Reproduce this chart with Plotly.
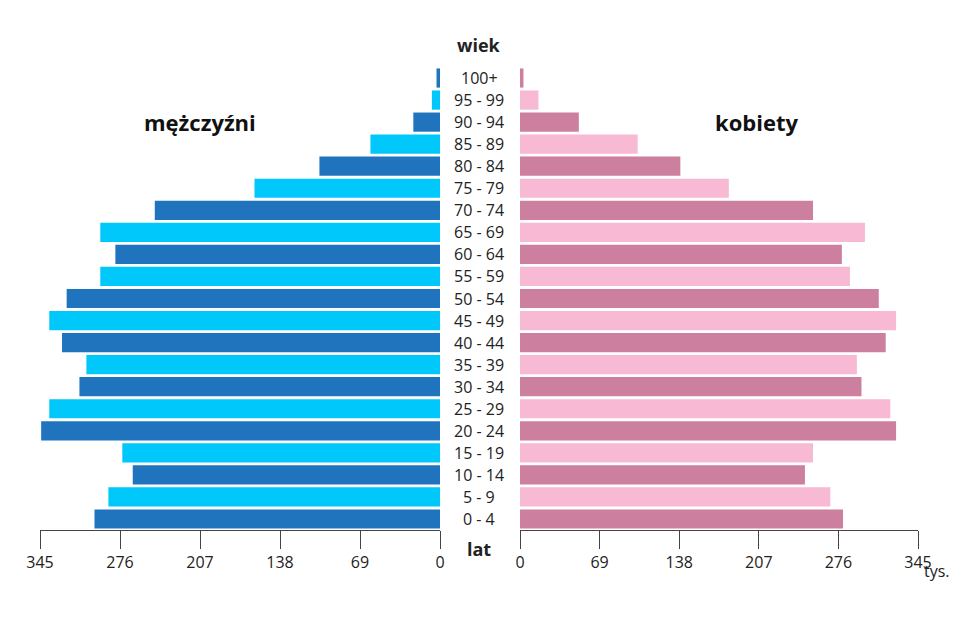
import plotly.graph_objects as go

ages = ["0 - 4","5 - 9","10 - 14","15 - 19","20 - 24","25 - 29","30 - 34","35 - 39","40 - 44","45 - 49",
        "50 - 54","55 - 59","60 - 64","65 - 69","70 - 74","75 - 79","80 - 84","85 - 89","90 - 94","95 - 99","100+"]
men = [298,286,265,274,344,337,311,305,326,337,322,293,280,293,246,160,104,60,23,7,3]
women = [280,269,247,254,326,321,296,292,317,326,311,286,279,299,254,181,139,102,51,16,3]
ticks = [0,69,138,207,276,345]

m_col = ["#1f74bd" if i % 2 == 0 else "#00c8fb" for i in range(len(ages))]
w_col = ["#cc7f9e" if i % 2 == 0 else "#f7b9d3" for i in range(len(ages))]

fig = go.Figure()
fig.add_bar(y=ages, x=men, orientation="h", marker=dict(color=m_col, line_width=0), xaxis="x", yaxis="y", hoverinfo="x+y")
fig.add_bar(y=ages, x=women, orientation="h", marker=dict(color=w_col, line_width=0), xaxis="x2", yaxis="y2", hoverinfo="x+y")

font = dict(family="Open Sans", size=16, color="#222")
ax = dict(tickvals=ticks, ticktext=[str(t) for t in ticks], showgrid=False, zeroline=False,
          showline=True, linecolor="#444", linewidth=1, ticks="outside", ticklen=18, tickcolor="#444",
          tickfont=font, fixedrange=True)
ya = dict(categoryorder="array", categoryarray=ages, range=[-0.5, 20.5], visible=False, fixedrange=True)
fig.update_layout(
    width=960, height=640, margin=dict(l=32, r=50, t=59, b=118),
    paper_bgcolor="white", plot_bgcolor="white", showlegend=False, bargap=0.13,
    xaxis=dict(ax, domain=[0, 400/878], range=[345, 0]),
    xaxis2=dict(ax, domain=[480/878, 1], range=[0, 345]),
    yaxis=dict(ya, anchor="x"),
    yaxis2=dict(ya, anchor="x2"),
    font=font,
)
for a in ages:
    fig.add_annotation(x=0.5, xref="paper", y=a, yref="y", text=a, showarrow=False, font=font)
fig.add_annotation(x=0.5, xref="paper", y=1.0, yref="paper", yanchor="bottom", yshift=8, text="<b>wiek</b>",
                   showarrow=False, font=dict(family="Open Sans", size=18, color="#222"))
fig.add_annotation(x=0.5, xref="paper", y=0, yref="paper", yanchor="middle", yshift=-19, text="<b>lat</b>",
                   showarrow=False, font=dict(family="Open Sans", size=18, color="#222"))
fig.add_annotation(x=1, xref="paper", y=0, yref="paper", xanchor="left", yanchor="middle", xshift=4, yshift=-41,
                   text="tys.", showarrow=False, font=font)
fig.add_annotation(x=175/960, xref="paper", y=0.917, yref="paper", text="<b>mężczyźni</b>", showarrow=False,
                   font=dict(family="Open Sans", size=22, color="#111"), xanchor="center")
fig.add_annotation(x=783/960, xref="paper", y=0.917, yref="paper", text="<b>kobiety</b>", showarrow=False,
                   font=dict(family="Open Sans", size=22, color="#111"), xanchor="center")
fig.write_html("out.html")
